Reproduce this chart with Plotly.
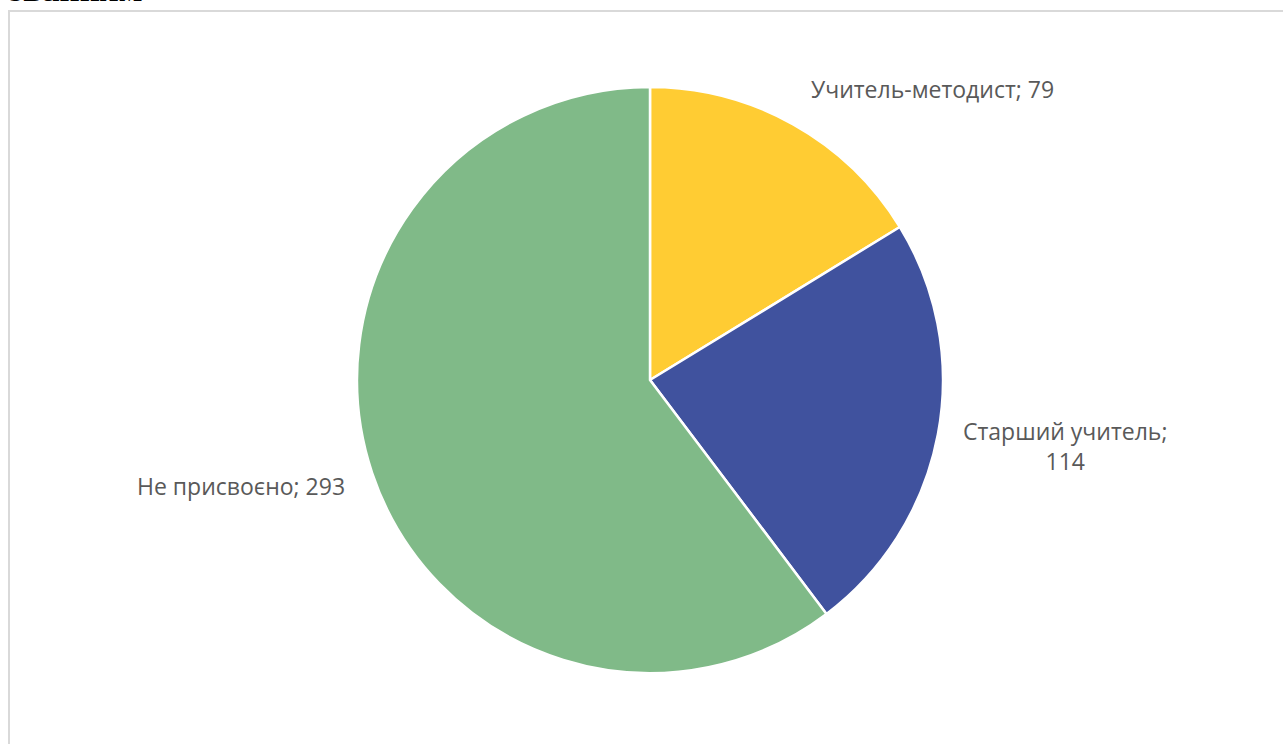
import plotly.graph_objects as go

# Дані діаграми
categories = ["Учитель-методист", "Старший учитель", "Не присвоєно"]
values = [79, 114, 293]
colors = ["#FFCC33", "#40529E", "#80BA88"]

W, H = 1283, 744

def px(x):
    return x / W

def py(y):
    return 1 - y / H

# центр і радіус круга в пікселях сторінки
cx, cy, r = 650, 380, 293

fig = go.Figure(go.Pie(
    labels=categories,
    values=values,
    sort=False,
    direction="clockwise",
    rotation=0,
    marker=dict(colors=colors, line=dict(color="white", width=2.5)),
    textinfo="none",
    hoverinfo="label+value",
    domain=dict(x=[px(cx - r), px(cx + r)], y=[py(cy + r), py(cy - r)]),
    showlegend=False,
))

label_font = dict(family="Open Sans, Noto Sans, sans-serif", size=23, color="#595959")

# підписи секторів
fig.add_annotation(text=f"{categories[0]}; {values[0]}", x=px(809), y=py(89),
                   xanchor="left", yanchor="middle", showarrow=False, font=label_font)
fig.add_annotation(text=f"{categories[1]};<br>{values[1]}", x=px(1065), y=py(446),
                   xanchor="center", yanchor="middle", showarrow=False, font=label_font,
                   align="center")
fig.add_annotation(text=f"{categories[2]}; {values[2]}", x=px(347), y=py(486),
                   xanchor="right", yanchor="middle", showarrow=False, font=label_font)

# обрізаний заголовок зверху (видно лише низ літер)
fig.add_annotation(text="<b>званням</b>", x=px(7), y=py(11), xanchor="left", yanchor="bottom",
                   showarrow=False,
                   font=dict(family="Liberation Serif, serif", size=35, color="black"))

# рамка області діаграми
fig.add_shape(type="rect", xref="paper", yref="paper",
              x0=px(9), x1=px(1300), y0=py(780), y1=py(11),
              line=dict(color="#D9D9D9", width=2), fillcolor="rgba(0,0,0,0)")

fig.update_layout(
    width=W, height=H,
    margin=dict(l=0, r=0, t=0, b=0),
    paper_bgcolor="white",
    plot_bgcolor="white",
)

fig.write_html("out.html", config={"displayModeBar": False},
               post_script="document.body.style.margin='0px';")
